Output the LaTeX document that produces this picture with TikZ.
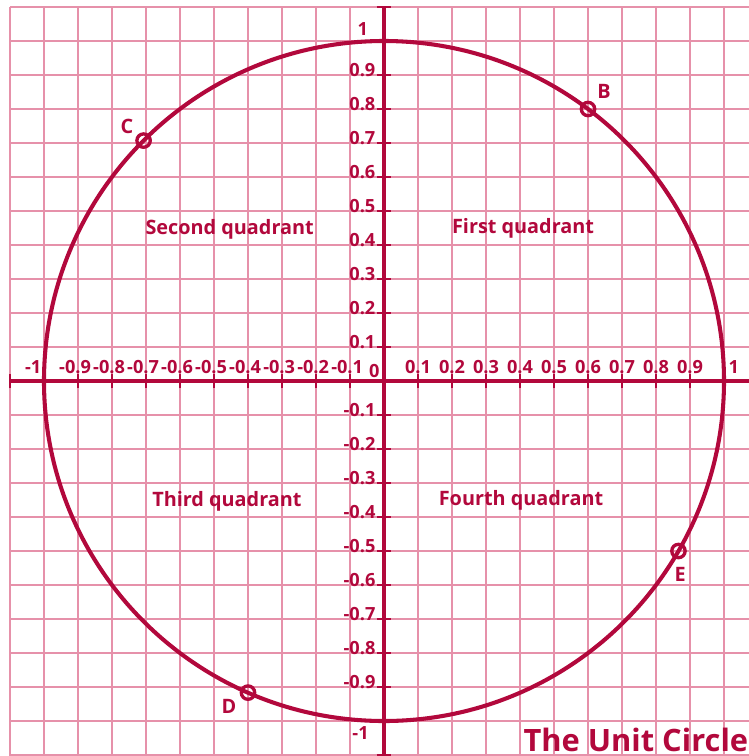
\documentclass[tikz,border=0pt]{standalone}
\usepackage{fontspec}
\setmainfont{Open Sans}
\definecolor{crim}{RGB}{178,8,60}
\definecolor{gridpink}{RGB}{230,145,170}
\tikzset{
  axisline/.style={draw=crim, line width=1.7pt},
  tickline/.style={draw=crim, line width=1pt},
  gridline/.style={draw=gridpink, line width=0.7pt},
  ptmark/.style={circle, draw=crim, line width=1.4pt, inner sep=0pt, minimum size=5.6pt},
  axlab/.style={text=crim, font=\fontsize{7.6}{9}\selectfont\bfseries, inner sep=0pt},
  quadlab/.style={text=crim, font=\fontsize{8.3}{10}\selectfont\bfseries, inner sep=0pt},
  ptlab/.style={text=crim, font=\fontsize{8.3}{10}\selectfont\bfseries, inner sep=0pt},
  titlelab/.style={text=crim, font=\fontsize{12.9}{15}\selectfont\bfseries, inner sep=0pt}
}
\begin{document}
\begin{tikzpicture}[x=0.5cm,y=0.5cm]
\useasboundingbox (-11.294,-11.029) rectangle (10.735,11.206);
% grid
\foreach \i in {-11,...,10} \draw[gridline] (\i,-11.2) -- (\i,11);
\foreach \j in {-11,...,11} \draw[gridline] (-11,\j) -- (10.9,\j);
% axes
\draw[axisline] (-11,0) -- (10.9,0);
\draw[axisline] (0,-11.2) -- (0,11);
% ticks
\foreach \i in {-11,...,10} \draw[tickline] (\i,-0.22) -- (\i,0.22);
\foreach \j in {-11,...,11} \draw[tickline] (-0.22,\j) -- (0.22,\j);
% unit circle
\draw[axisline] (0,0) circle (10);
% x labels
\foreach \i in {1,...,9} {
  \node[axlab, anchor=base] (xp\i) at (\i,0.22) {0.\i};
  \node[axlab, anchor=base, xshift=-1.2pt] (xn\i) at (-\i,0.22) {-0.\i};
}
\node[axlab, anchor=base] (xone) at (10.29,0.22) {1};
\node[axlab, anchor=base] (xmone) at (-10.32,0.22) {-1};
% y labels
\foreach \j in {1,...,9} {
  \node[axlab, anchor=base east] (yp\j) at (-0.24,\j-0.05) {0.\j};
  \node[axlab, anchor=base east] (yn\j) at (-0.24,-\j-0.05) {-0.\j};
}
\node[axlab, anchor=base] (yone) at (-0.62,10.15) {1};
\node[axlab, anchor=base] (ymone) at (-0.69,-10.55) {-1};
\node[axlab, anchor=base east] (zero) at (-0.12,0.1) {0};
% quadrant labels
\node[quadlab] (q1) at (4.09,4.5) {First quadrant};
\node[quadlab] (q2) at (-4.54,4.47) {Second quadrant};
\node[quadlab] (q3) at (-4.62,-3.53) {Third quadrant};
\node[quadlab] (q4) at (4.03,-3.5) {Fourth quadrant};
% points
\node[ptmark] (B) at (6,8) {};
\node[ptmark] (C) at (-7.071,7.071) {};
\node[ptmark] (D) at (-4,-9.165) {};
\node[ptmark] (E) at (8.660,-5) {};
\node[ptlab] (Blab) at (6.47,8.53) {B};
\node[ptlab] (Clab) at (-7.56,7.5) {C};
\node[ptlab] (Dlab) at (-4.56,-9.56) {D};
\node[ptlab] (Elab) at (8.71,-5.68) {E};
% title
\node[titlelab, anchor=base west] (title) at (4.09,-10.91) {The Unit Circle};
\end{tikzpicture}
\end{document}
